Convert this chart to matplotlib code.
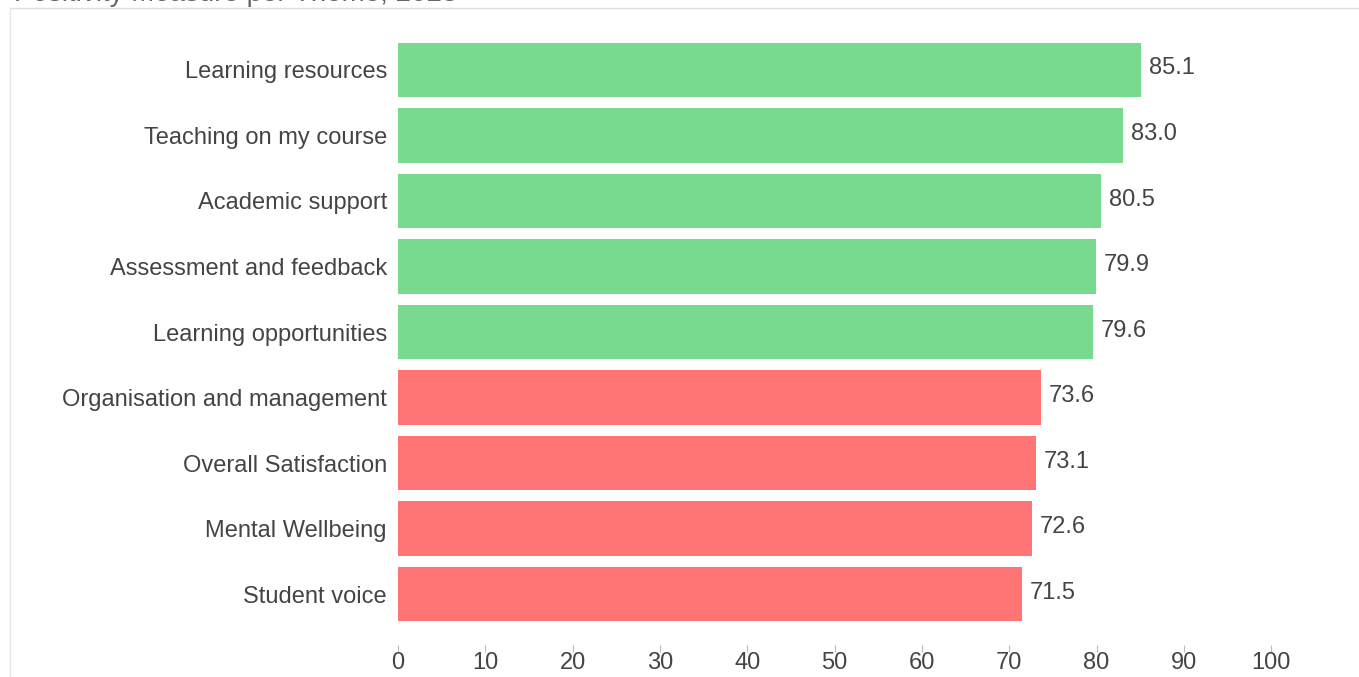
import matplotlib.pyplot as plt
from matplotlib.lines import Line2D

themes = ['Learning resources', 'Teaching on my course', 'Academic support',
          'Assessment and feedback', 'Learning opportunities',
          'Organisation and management', 'Overall Satisfaction',
          'Mental Wellbeing', 'Student voice']
scores = [85.1, 83.0, 80.5, 79.9, 79.6, 73.6, 73.1, 72.6, 71.5]
above = [True, True, True, True, True, False, False, False, False]
x_ticks = [0, 10, 20, 30, 40, 50, 60, 70, 80, 90, 100]

plt.rcParams['font.family'] = ['Liberation Sans', 'DejaVu Sans']
green = '#78D98F'
red = '#FF7474'
txt = '#444444'
fs = 17

fig = plt.figure(figsize=(13.59, 6.77), dpi=100)
ax = fig.add_axes([398/1359, 1-627/677, (1341-398)/1359, 590/677])
for s in ax.spines.values():
    s.set_visible(False)
ax.spines['bottom'].set_position(('outward', 13))

ypos = list(range(len(themes)))
cols = [green if a else red for a in above]
ax.barh(ypos, scores, height=0.83, color=cols)
for y, v in zip(ypos, scores):
    ax.text(v + 0.9, y - 0.02, '%.1f' % v, va='center', ha='left', fontsize=fs, color=txt)

ax.set_xlim(0, 108)
ax.set_ylim(len(themes) - 0.5, -0.5)
ax.set_yticks(ypos)
ax.set_yticklabels(themes, fontsize=fs, color=txt)
ax.set_xticks(x_ticks)
ax.set_xticklabels([str(t) for t in x_ticks], fontsize=fs, color=txt)
ax.tick_params(axis='y', length=0, pad=8)
ax.tick_params(axis='x', length=5, color='#bbbbbb', pad=0)

# panel frame (partly cut off in the screenshot)
fig.add_artist(Line2D([10/1359, 1], [1-8/677, 1-8/677], color='#dddddd', lw=1))
fig.add_artist(Line2D([10/1359, 10/1359], [0, 1-8/677], color='#e6e6e6', lw=1))
fig.text(14/1359, 1-1/677, 'Positivity Measure per Theme, 2023', fontsize=20,
         color='#666666', va='baseline', ha='left')

fig.savefig('out.png', dpi=100)
